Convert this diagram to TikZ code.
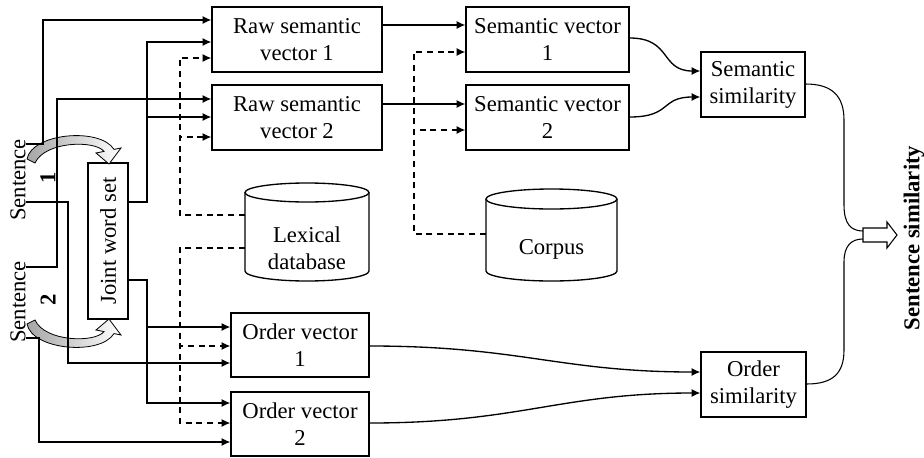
\documentclass[tikz,border=0pt]{standalone}
\usepackage{fontspec}
\setmainfont{Liberation Serif}
\usepackage{tikz}
\usetikzlibrary{shapes,arrows.meta,positioning,calc}

\tikzset{
  box/.style={draw, line width=1pt, align=center, inner sep=0pt},
  txt/.style={align=center, inner sep=0pt},
  flow/.style={line width=1pt, -{Latex[length=6.5pt,width=6pt]}},
  dflow/.style={flow, dash pattern=on 4.5pt off 3.5pt},
  feed/.style={line width=0.8pt},
  heavy/.style={font=\fontsize{17}{20.3}\selectfont\bfseries},
  sentarrow/.pic={
    \draw[line width=0.6pt, left color=gray!70, right color=white]
      (27,159) .. controls (32,133) and (100,127) .. (114,149.4) -- (121,148)
      -- (109,164) -- (96,153) -- (104,151.4)
      .. controls (95,140) and (45,141) .. (35,163) -- cycle;
  }
}

\begin{document}
\begin{tikzpicture}[x=0.75pt, y=-0.75pt,
    every node/.style={font=\fontsize{17}{20.3}\selectfont}]
  \useasboundingbox (0,0) rectangle (924,457);

  % sentences and joint word set
  \node[txt, rotate=90] (s1) at (18,180) {Sentence};
  \node[txt, rotate=90, heavy] (n1) at (48,178) {1};
  \node[txt, rotate=90] (s2) at (18,302) {Sentence};
  \node[txt, rotate=90, heavy] (n2) at (48,300) {2};
  \node[box, rotate=90, minimum width=117pt, minimum height=30pt] (joint) at (108,241) {Joint word set};
  \pic at (0,0) {sentarrow};
  \pic[yscale=-1] at (0,483) {sentarrow};

  % vectors
  \node[box, minimum width=127.5pt, minimum height=48.75pt] (raw1) at (297,39.5) {Raw semantic\\vector 1};
  \node[box, minimum width=127.5pt, minimum height=48.75pt] (raw2) at (297,117.5) {Raw semantic\\vector 2};
  \node[box, minimum width=122.25pt, minimum height=48.75pt] (sem1) at (547.5,39.5) {Semantic vector\\1};
  \node[box, minimum width=122.25pt, minimum height=48.75pt] (sem2) at (547.5,117.5) {Semantic vector\\2};
  \node[box, minimum width=103.5pt, minimum height=48pt] (ord1) at (300,345) {Order vector\\1};
  \node[box, minimum width=103.5pt, minimum height=48pt] (ord2) at (300,424) {Order vector\\2};
  \node[box, minimum width=78pt, minimum height=48.75pt] (semsim) at (753,84.5) {Semantic\\similarity};
  \node[box, minimum width=78.75pt, minimum height=48.75pt] (ordsim) at (753.5,384.5) {Order\\similarity};

  % databases
  \draw[line width=1pt] (307,192.5) ellipse [x radius=62, y radius=9.5];
  \draw[line width=1pt] (245,192.5) -- (245,271) arc[start angle=180, end angle=0, x radius=62, y radius=10] -- (369,192.5);
  \node[txt, minimum width=93pt] (lex) at (307,248) {Lexical\\database};
  \draw[line width=1pt] (551.5,199) ellipse [x radius=65.5, y radius=10];
  \draw[line width=1pt] (486,199) -- (486,271) arc[start angle=180, end angle=0, x radius=65.5, y radius=10] -- (617,199);
  \node[txt, minimum width=98.25pt] (corpus) at (551.5,249) {Corpus};

  % result
  \coordinate (out) at (863,235);
  \draw[line width=0.8pt, fill=white] (out) ++(0,-7) -- ++(24,0) -- ++(0,-6) -- (897,235)
    -- (887,248) -- ++(0,-6) -- (863,242) -- cycle;
  \node[txt, rotate=90, heavy] (ssim) at (914,238) {Sentence similarity};

  % sentence inputs
  \draw[flow] (s1.south |- 0,144) -| (43,20) -- (raw1.west |- 0,20);
  \draw[flow] (s1.south |- 0,202) -| (68,363) -- (ord1.west |- 0,363);
  \draw[flow] (s2.south |- 0,267) -| (57,99) -- (raw2.west |- 0,99);
  \draw[flow] (s2.south |- 0,338) -| (39,442) -- (ord2.west |- 0,442);

  % joint word set
  \draw[flow] (joint.south |- 0,202) -| (147,42) -- (raw1.west |- 0,42);
  \draw[flow] (joint.south |- 0,202) -| (147,117) -- (raw2.west |- 0,117);
  \draw[flow] (joint.south |- 0,280) -| (147,327) -- (ord1.west |- 0,327);
  \draw[flow] (joint.south |- 0,280) -| (147,403) -- (ord2.west |- 0,403);

  % lexical database and corpus
  \draw[dflow] (lex.west |- 0,215) -| (180,58) -- (raw1.west |- 0,58);
  \draw[dflow] (lex.west |- 0,215) -| (180,137) -- (raw2.west |- 0,137);
  \draw[dflow] (lex.west |- 0,248) -| (180,346) -- (ord1.west |- 0,346);
  \draw[dflow] (lex.west |- 0,248) -| (180,423) -- (ord2.west |- 0,423);
  \draw[dflow] (corpus.west |- 0,234) -| (414,52) -- (sem1.west |- 0,52);
  \draw[dflow] (corpus.west |- 0,234) -| (414,130) -- (sem2.west |- 0,130);

  % vectors to similarities
  \draw[flow] (raw1.east |- 0,25) -- (sem1.west |- 0,25);
  \draw[flow] (raw2.east |- 0,104) -- (sem2.west |- 0,104);
  \draw[flow] (sem1.east |- 0,38) .. controls (672,38) and (660,71) .. (semsim.west |- 0,71);
  \draw[flow] (sem2.east |- 0,117) .. controls (672,117) and (660,97) .. (semsim.west |- 0,97);
  \draw[flow] (ord1.east |- 0,346) .. controls (520,346) and (560,372) .. (ordsim.west |- 0,372);
  \draw[flow] (ord2.east |- 0,423) .. controls (520,423) and (560,393) .. (ordsim.west |- 0,393);

  % similarities to sentence similarity
  \draw[feed] (semsim.east |- 0,84) .. controls (832,84) and (844,96) .. (844,120) -- (844,205)
    .. controls (844,224) and (851,231) .. (out |- 0,231);
  \draw[feed] (ordsim.east |- 0,384) .. controls (832,384) and (844,374) .. (844,350) -- (844,262)
    .. controls (844,246) and (851,239) .. (out |- 0,239);
\end{tikzpicture}
\end{document}
